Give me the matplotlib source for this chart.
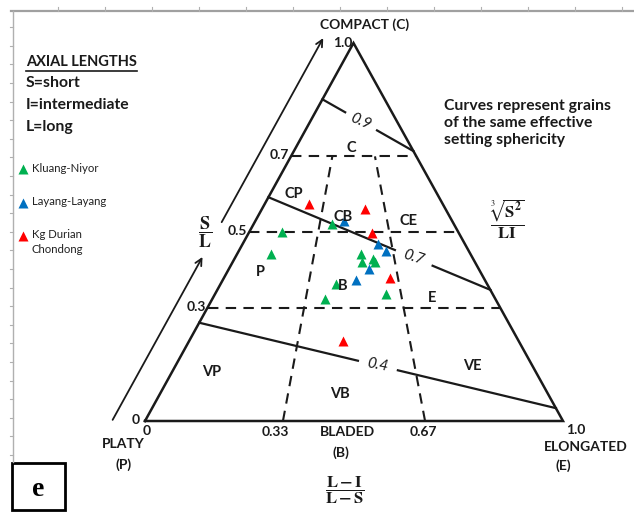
import matplotlib

matplotlib.use("Agg")
import matplotlib.pyplot as plt
import numpy as np
from matplotlib.patches import Rectangle

plt.rcParams["font.family"] = ["Lato", "DejaVu Sans"]
plt.rcParams["mathtext.fontset"] = "stix"

W, H = 634, 512

# form-triangle grid: S/L levels (horizontal) and (L-I)/(L-S) splits
SL_LEVELS = [0.3, 0.5, 0.7]
LI_LEVELS = [0.33, 0.67]

# effective settling sphericity lines: S/L where each meets the left and right edge
SPH_VALUES = [0.9, 0.7, 0.4]
SPH_LEFT = [0.851, 0.592, 0.260]
SPH_RIGHT = [0.714, 0.347, 0.034]
SPH_GAP = [(0.25, 0.60), (0.57, 0.74), (0.445, 0.557)]

# samples as ((L-I)/(L-S), S/L)
KLUANG_X = [0.391, 0.156, 0.144, 0.531, 0.533, 0.580, 0.586, 0.433, 0.398, 0.615]
KLUANG_Y = [0.521, 0.500, 0.442, 0.442, 0.420, 0.428, 0.421, 0.362, 0.322, 0.335]
LAYANG_X = [0.448, 0.607, 0.639, 0.561, 0.510]
LAYANG_Y = [0.530, 0.468, 0.451, 0.401, 0.373]
DURIAN_X = [0.249, 0.561, 0.589, 0.638, 0.467]
DURIAN_Y = [0.574, 0.561, 0.498, 0.378, 0.212]

SITES = ["Kluang-Niyor", "Layang-Layang", "Kg Durian\nChondong"]
COLORS = ["#00b050", "#0070c0", "#ff0000"]

REGIONS = ["C", "CP", "CB", "CE", "P", "B", "E", "VP", "VB", "VE"]
REGION_POS = [(351, 148), (294, 194), (343, 217), (408, 221), (260, 272),
              (343, 286), (432, 298), (212, 372), (340, 394), (472, 366)]

# triangle corners on the canvas (platy, elongated, compact)
P = (145.0, 421.0)
E = (563.0, 421.0)
C = (353.5, 43.0)


def tern(f, s):
    f = np.asarray(f, float)
    s = np.asarray(s, float)
    y = P[1] + s * (C[1] - P[1])
    xl = P[0] + s * (C[0] - P[0])
    xr = E[0] + s * (C[0] - E[0])
    return xl + f * (xr - xl), y


fig = plt.figure(figsize=(W / 100, H / 100), dpi=100)
ax = fig.add_axes([0, 0, 1, 1])
ax.set_xlim(0, W)
ax.set_ylim(H, 0)
ax.axis("off")

# worksheet frame
ax.plot([11, W], [10.5, 10.5], color="#a0a0a0", lw=1.6)
ax.plot([13, 13], [10.5, 462], color="#b0b0b0", lw=1.0)
for tx in np.arange(58, W, 47):
    ax.plot([tx, tx], [7, 10.5], color="#b0b0b0", lw=0.8)
for ty in np.arange(455, 15, -18.6):
    ax.plot([10, 13], [ty, ty], color="#b0b0b0", lw=0.8)

ink = "#1a1a1a"
dash = (0, (5, 3.5))

# outline
ax.plot(*tern([0, 1, 1, 0], [0, 0, 1, 0]), color=ink, lw=1.8, solid_joinstyle="miter")

# class boundaries
for s in SL_LEVELS:
    ax.plot(*tern([0, 1], [s, s]), color=ink, lw=1.5, ls=dash)
for f in LI_LEVELS:
    ax.plot(*tern([f, f], [0, 0.7]), color=ink, lw=1.5, ls=dash)

# sphericity lines, broken where the value is written
for val, sl, sr, (g0, g1) in zip(SPH_VALUES, SPH_LEFT, SPH_RIGHT, SPH_GAP):
    x0, y0 = tern(0, sl)
    x1, y1 = tern(1, sr)
    for a, b in ((0, g0), (g1, 1)):
        ax.plot([x0 + a * (x1 - x0), x0 + b * (x1 - x0)],
                [y0 + a * (y1 - y0), y0 + b * (y1 - y0)], color=ink, lw=1.6)
    gm = (g0 + g1) / 2
    ang = -np.degrees(np.arctan2(y1 - y0, x1 - x0))
    ax.text(x0 + gm * (x1 - x0), y0 + gm * (y1 - y0), f"{val:.1f}", fontsize=11,
            style="italic", ha="center", va="center", rotation=ang * 0.8,
            rotation_mode="anchor", color=ink)

# S/L axis arrows beside the platy-compact edge
for s0, s1 in ((0.003, 0.434), (0.526, 1.013)):
    xa, ya = tern([0, 0], [s0, s1])
    ax.annotate("", xy=(xa[1] - 33, ya[1]), xytext=(xa[0] - 33, ya[0]),
                arrowprops=dict(arrowstyle="->", color=ink, lw=1.3,
                                mutation_scale=12, shrinkA=0, shrinkB=0))

# samples
for xs, ys, col in zip((KLUANG_X, LAYANG_X, DURIAN_X), (KLUANG_Y, LAYANG_Y, DURIAN_Y), COLORS):
    ax.plot(*tern(xs, ys), "^", color=col, ms=7.5, mec="none", ls="none")

# class names
for name, (rx, ry) in zip(REGIONS, REGION_POS):
    ax.text(rx, ry, name, fontsize=10.5, fontweight="bold", ha="center", va="center", color=ink)

# axis values
bold = dict(fontweight="bold", color=ink, fontsize=10)
for s in SL_LEVELS:
    x, y = tern(0, s)
    ax.text(x - 2, y - 1, f"{s:g}", ha="right", va="center", **bold)
ax.text(140, 420, "0", ha="right", va="center", **bold)
ax.text(147, 431, "0", ha="center", va="center", **bold)
ax.text(352, 43, "1.0", ha="right", va="center", **bold)
for f, lx in zip(LI_LEVELS, (275, 423)):
    ax.text(lx, 432, f"{f:.2f}", ha="center", va="center", **bold)
ax.text(576, 430, "1.0", ha="center", va="center", **bold)

# vertex names
ax.text(365, 25, "COMPACT (C)", ha="center", va="center", **bold)
ax.text(123, 444, "PLATY", ha="center", va="center", **bold)
ax.text(124, 465, "(P)", ha="center", va="center", **bold)
ax.text(347, 432, "BLADED", ha="center", va="center", **bold)
ax.text(341, 453, "(B)", ha="center", va="center", **bold)
ax.text(586, 447, "ELONGATED", ha="center", va="center", **bold)
ax.text(563, 466, "(E)", ha="center", va="center", **bold)

# formulas
ax.text(205, 232, r"$\mathbf{\dfrac{S}{L}}$", fontsize=13, ha="center", va="center", color=ink)
ax.text(507, 219, r"$\dfrac{\sqrt[3]{\mathbf{S^2}}}{\mathbf{LI}}$", fontsize=12,
        ha="center", va="center", color=ink)
ax.text(345, 490, r"$\dfrac{\mathbf{L-I}}{\mathbf{L-S}}$", fontsize=12,
        ha="center", va="center", color=ink)

# key to axial lengths
head = ax.text(26, 62, "AXIAL LENGTHS", fontsize=10.5, fontweight="bold",
               ha="left", va="center", color=ink)
for i, line in enumerate(["S=short", "I=intermediate", "L=long"]):
    ax.text(26, 83 + 22 * i, line, fontsize=11.3, fontweight="bold",
            ha="left", va="center", color=ink)
ax.text(444, 123, "Curves represent grains\nof the same effective\nsetting sphericity",
        fontsize=11.3, fontweight="bold", ha="left", va="center", linespacing=1.3, color=ink)

# site key
for i, (site, col) in enumerate(zip(SITES, COLORS)):
    ky = 169 + 33.5 * i
    ax.plot(23, ky, "^", color=col, ms=7.5, mec="none")
    ax.text(32, ky - 1 if "\n" not in site else ky + 6, site, fontsize=8.2,
            ha="left", va="center", linespacing=1.5, color="#222222")

# panel tag
ax.add_patch(Rectangle((12, 463), 53, 47, fill=True, fc="white", ec="black", lw=2))
ax.text(38.5, 489, "e", fontsize=20, fontweight="bold", family="Liberation Serif",
        ha="center", va="center")

fig.canvas.draw()
bb = head.get_window_extent().transformed(ax.transData.inverted())
ax.plot([bb.x0, bb.x1], [bb.y0 + 1.5, bb.y0 + 1.5], color=ink, lw=1.2)

fig.savefig("out.png", dpi=100)
